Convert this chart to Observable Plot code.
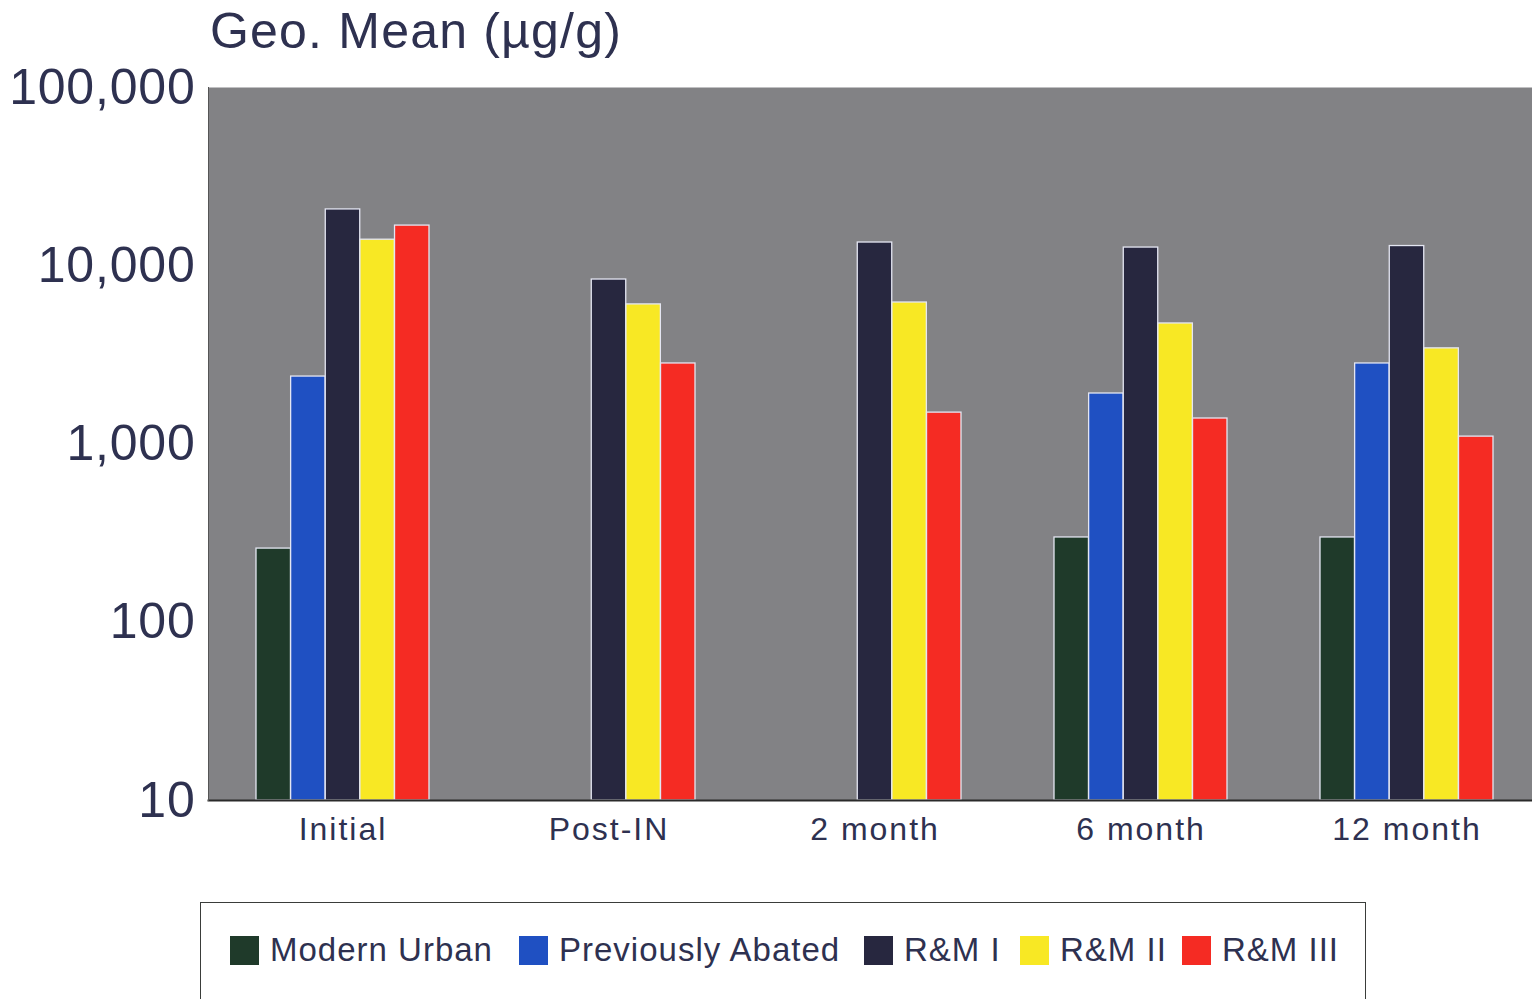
<!DOCTYPE html>
<html>
<head>
<meta charset="utf-8">
<script src="https://cdn.jsdelivr.net/npm/d3@7"></script>
<script src="https://cdn.jsdelivr.net/npm/@observablehq/plot@0.6"></script>
<style>
  html, body { margin: 0; padding: 0; background: #ffffff; overflow: hidden; width: 1532px; height: 999px; }
  body { position: relative; font-family: "Liberation Sans", Arial, sans-serif; color: #2e3150; }
  #title { position: absolute; left: 210px; top: 1px; font-size: 50px; line-height: 60px; letter-spacing: 1.2px; white-space: nowrap; }
  #chart { position: absolute; left: 0; top: 60px; width: 1540px; }
  #chart svg { max-width: none !important; }
  #legend { position: absolute; left: 200px; top: 902px; width: 1166px; height: 120px; border: 1.5px solid #3a3d3a; box-sizing: border-box; }
  .item { position: absolute; top: 28px; display: flex; align-items: center; font-size: 33px; letter-spacing: 1px; white-space: nowrap; }
  .sw { width: 29px; height: 29px; margin-right: 11px; }
</style>
</head>
<body>
<div id="title">Geo. Mean (µg/g)</div>
<div id="chart"></div>
<div id="legend"></div>
<script>
const groups = ["Initial", "Post-IN", "2 month", "6 month", "12 month"];
const series = ["Modern Urban", "Previously Abated", "R&M I", "R&M II", "R&M III"];
const colors = ["#1f3a2a", "#1f50c2", "#27273f", "#f8e824", "#f52b23"];
const modernUrban      = [259,   null, null,  299,   299];
const previouslyAbated = [2390,  null, null,  1920,  2830];
const rmI              = [20700, 8370, 13500, 12650, 12900];
const rmII             = [14000, 6070, 6220,  4745,  3440];
const rmIII            = [16800, 2830, 1500,  1390,  1100];
const yTicks = [10, 100, 1000, 10000, 100000];

const seriesValues = [modernUrban, previouslyAbated, rmI, rmII, rmIII];
const data = [];
groups.forEach((g, gi) => {
  series.forEach((s, si) => {
    const v = seriesValues[si][gi];
    if (v != null) data.push({group: g, series: s, value: v});
  });
});

const W = 1540, ML = 208, MR = 0;
const padInner = 0.35, padOuter = 0.175;
// width of one bar slot inside a group band (same band parameters as Plot's x scale)
const band = d3.scaleBand(groups, [ML, W - MR]).paddingInner(padInner).paddingOuter(padOuter);
const slot = band.bandwidth() / series.length;

const barMarks = series.map((s, si) =>
  Plot.barY(data.filter(d => d.series === s), {
    x: "group", y1: () => 10, y2: "value", fill: "series",
    insetLeft: si * slot, insetRight: (series.length - 1 - si) * slot,
    stroke: "#e4e6f2", strokeWidth: 1.3
  })
);

const chart = Plot.plot({
  width: W,
  height: 800,
  marginLeft: ML,
  marginRight: MR,
  marginTop: 27,
  marginBottom: 60,
  style: {fontFamily: "'Liberation Sans', Arial, sans-serif", color: "#2e3150", background: "transparent", overflow: "visible"},
  x: {domain: groups, paddingInner: padInner, paddingOuter: padOuter, label: null},
  y: {type: "log", domain: [10, 100000], label: null},
  color: {domain: series, range: colors},
  marks: [
    Plot.frame({fill: "#828285", stroke: null}),
    ...barMarks,
    Plot.frame({anchor: "bottom", stroke: "#2a2a2a", strokeWidth: 2}),
    Plot.frame({anchor: "left", stroke: "#555555", strokeWidth: 1}),
    Plot.axisY({ticks: yTicks, tickFormat: d3.format(","), tickSize: 0, tickPadding: 13, fontSize: 50, label: null}),
    Plot.axisX({anchor: "bottom", tickSize: 0, tickPadding: 17, fontSize: 32, label: null})
  ]
});
document.getElementById("chart").appendChild(chart);
d3.select(chart).selectAll("[aria-label='x-axis tick label'] text").style("letter-spacing", "2px");
d3.select(chart).selectAll("[aria-label='y-axis tick label'] text").style("letter-spacing", "0.8px");

const legendLeft = [29, 318, 663, 819, 981];
const legend = document.getElementById("legend");
series.forEach((s, i) => {
  const it = document.createElement("div");
  it.className = "item";
  it.style.left = legendLeft[i] + "px";
  const sw = document.createElement("div");
  sw.className = "sw";
  sw.style.background = colors[i];
  const tx = document.createElement("span");
  tx.textContent = s;
  it.appendChild(sw);
  it.appendChild(tx);
  legend.appendChild(it);
});
</script>
</body>
</html>
